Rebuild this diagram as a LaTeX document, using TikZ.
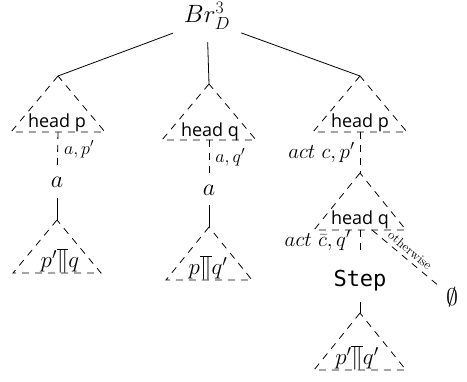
\documentclass[tikz,border=0pt]{standalone}
\usepackage{fix-cm}
\usepackage{fontspec}
\newfontfamily\headfont{Open Sans}
\newfontfamily\stepfont{DejaVu Sans Mono}
\usetikzlibrary{calc}
\newcommand\tritree[4]{%
  \coordinate (#1) at #2;
  \coordinate (#1b) at ($#2+(0,#4)$);
  \draw[tri] (#1) -- ++(-#3,#4) -- ++(2*#3,0) -- cycle;}
\begin{document}
\begin{tikzpicture}[x=1pt,y=-1pt,
  every node/.style={inner sep=0pt},
  tri/.style={dash pattern=on 7pt off 6pt, line width=0.8pt},
  dashedge/.style={dash pattern=on 7pt off 6pt, line width=0.8pt},
  solidedge/.style={line width=0.8pt},
  mainmath/.style={font=\fontsize{24}{28}\selectfont},
  leafmath/.style={font=\fontsize{23}{27}\selectfont},
  rootmath/.style={font=\fontsize{25}{29}\selectfont},
  smalllab/.style={font=\fontsize{18}{21}\selectfont},
  actlab/.style={font=\fontsize{21}{25}\selectfont},
  headlab/.style={font=\headfont\fontsize{18}{21}\selectfont, anchor=base},
  steplab/.style={font=\stepfont\fontsize{22}{26}\selectfont},
  otherlab/.style={font=\rmfamily\fontsize{13}{15}\selectfont},
]
\useasboundingbox (0,0) rectangle (467,382);
% root
\node[rootmath, anchor=base, text height=24pt, text depth=19pt, minimum width=68pt] (root) at (207,23) {$Br_D^3$};
% triangles
\tritree{t1}{(58,76)}{47}{56}
\tritree{t2}{(209,84)}{47}{56}
\tritree{t3}{(360,76)}{47}{56}
\tritree{t4}{(360,173)}{46}{57}
\tritree{t5}{(57,220)}{44}{53}
\tritree{t6}{(209,227)}{43}{53}
\tritree{t7}{(360,313)}{46}{57}
% triangle labels
\node[headlab] (h1) at (57,128) {head p};
\node[headlab] (h2) at (210,137) {head q};
\node[headlab] (h3) at (360,128) {head p};
\node[headlab] (h4) at (360,225) {head q};
\node[leafmath, anchor=base] (x1) at (60,268) {$p'\overline{\|}q$};
\node[leafmath, anchor=base] (x2) at (208,275) {$p\overline{\|}q'$};
\node[leafmath, anchor=base] (x3) at (357,365) {$p'\overline{\|}q'$};
% inner nodes
\node[mainmath, anchor=base, text height=21pt, text depth=10pt] (a1) at (57,188) {$a$};
\node[mainmath, anchor=base, text height=21pt, text depth=9pt] (a2) at (209,196) {$a$};
\node[steplab, anchor=base, text height=32pt, text depth=15pt] (step) at (360,287) {Step};
\node[mainmath, minimum size=30pt] (empty) at (452,297) {$\emptyset$};
% connectors
\draw[solidedge] (root) -- (t1);
\draw[solidedge] (root) -- (t2);
\draw[solidedge] (root) -- (t3);
\draw[dashedge] (t1b) -- node[right=6pt, smalllab] (l1) {$a, p'$} (a1);
\draw[solidedge] (a1) -- (t5);
\draw[dashedge] (t2b) -- node[right=6pt, smalllab] (l2) {$a, q'$} (a2);
\draw[solidedge] (a2) -- (t6);
\draw[dashedge] (t3b) -- node[left=5pt, actlab] (l3) {$act\ c, p'$} (t4);
\draw[dashedge] (t4b) -- node[left=9pt, actlab, yshift=2pt] (l4) {$act\ \bar{c}, q'$} (step);
\draw[solidedge] (step) -- (t7);
\draw[dashedge] ($(t4b)+(12,0)$) -- node[sloped, above=4pt, otherlab] (l5) {otherwise} (empty);
\end{tikzpicture}
\end{document}
